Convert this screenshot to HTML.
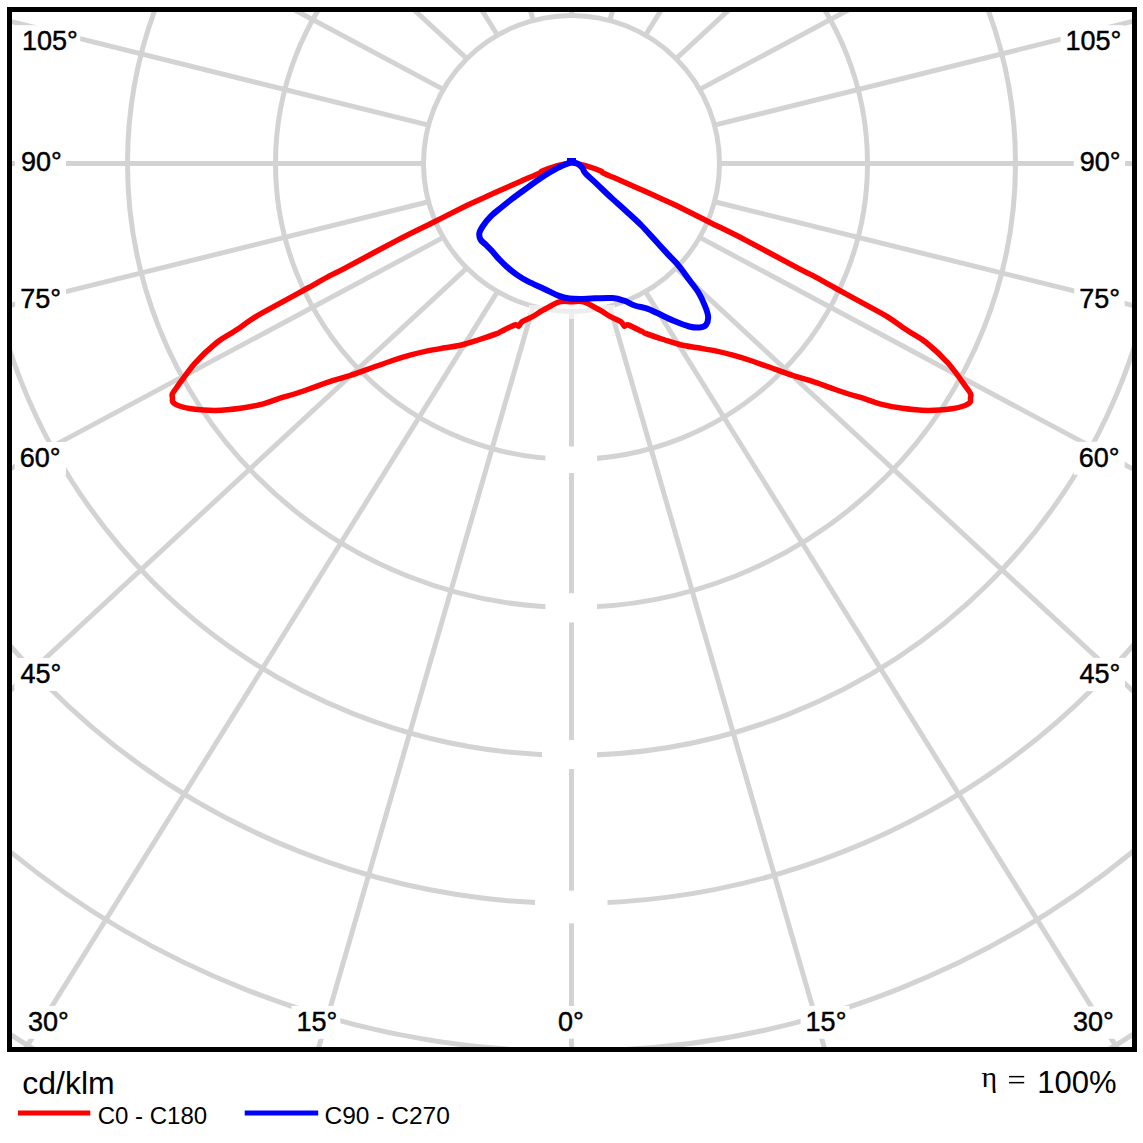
<!DOCTYPE html>
<html><head><meta charset="utf-8"><style>
html,body{margin:0;padding:0;background:#fff;width:1143px;height:1143px;overflow:hidden}
svg{display:block;font-family:"Liberation Sans",sans-serif}
</style></head><body>
<svg width="1143" height="1143" viewBox="0 0 1143 1143" font-family="Liberation Sans, sans-serif" fill="#000"><rect x="0" y="0" width="1143" height="1143" fill="#fff"/>
<defs><clipPath id="pc"><rect x="12" y="12" width="1120" height="1036"/></clipPath></defs>
<g clip-path="url(#pc)" fill="none" stroke="#d3d3d3" stroke-width="5">
<circle cx="571.5" cy="163.4" r="148"/>
<circle cx="571.5" cy="163.4" r="296"/>
<circle cx="571.5" cy="163.4" r="444"/>
<circle cx="571.5" cy="163.4" r="592"/>
<circle cx="571.5" cy="163.4" r="740"/>
<circle cx="571.5" cy="163.4" r="888"/>
<circle cx="571.5" cy="163.4" r="1036"/>
<circle cx="571.5" cy="163.4" r="1184"/>
<line x1="571.5" y1="15.4" x2="571.5" y2="-1984.6"/>
<line x1="609.8" y1="20.4" x2="1165.8" y2="-1900.7"/>
<line x1="645.5" y1="35.2" x2="1703.7" y2="-1661.9"/>
<line x1="676.2" y1="58.7" x2="2143.7" y2="-1300.1"/>
<line x1="699.7" y1="89.4" x2="2463.5" y2="-853.5"/>
<line x1="714.5" y1="125.1" x2="2655.6" y2="-356.5"/>
<line x1="719.5" y1="163.4" x2="2719.5" y2="163.4"/>
<line x1="714.5" y1="201.7" x2="2655.6" y2="683.3"/>
<line x1="699.7" y1="237.4" x2="2463.5" y2="1180.3"/>
<line x1="676.2" y1="268.1" x2="2143.7" y2="1626.9"/>
<line x1="645.5" y1="291.6" x2="1703.7" y2="1988.7"/>
<line x1="609.8" y1="306.4" x2="1165.8" y2="2227.5"/>
<line x1="571.5" y1="311.4" x2="571.5" y2="2311.4"/>
<line x1="533.2" y1="306.4" x2="-22.8" y2="2227.5"/>
<line x1="497.5" y1="291.6" x2="-560.7" y2="1988.7"/>
<line x1="466.8" y1="268.1" x2="-1000.7" y2="1626.9"/>
<line x1="443.3" y1="237.4" x2="-1320.5" y2="1180.3"/>
<line x1="428.5" y1="201.7" x2="-1512.6" y2="683.3"/>
<line x1="423.5" y1="163.4" x2="-1576.5" y2="163.4"/>
<line x1="428.5" y1="125.1" x2="-1512.6" y2="-356.5"/>
<line x1="443.3" y1="89.4" x2="-1320.5" y2="-853.5"/>
<line x1="466.8" y1="58.7" x2="-1000.7" y2="-1300.1"/>
<line x1="497.5" y1="35.2" x2="-560.7" y2="-1661.9"/>
<line x1="533.2" y1="20.4" x2="-22.8" y2="-1900.7"/>
<line x1="571.5" y1="15.4" x2="571.5" y2="-1984.6"/>
</g>
<rect x="545.4" y="446.5" width="51.6" height="26.5" fill="#fff"/>
<rect x="545.4" y="593.2" width="51.6" height="29.3" fill="#fff"/>
<rect x="542" y="740.1" width="55" height="28.9" fill="#fff"/>
<rect x="535" y="890.6" width="72.5" height="32.8" fill="#fff"/>
<rect x="529" y="305" width="86" height="14" fill="#fff" fill-opacity="0.6"/>
<rect x="16.9" y="25.2" width="63.3" height="32.4" fill="#fff"/>
<text x="21.9" y="50.2" font-size="27" stroke="#000" stroke-width="0.45">105°</text>
<rect x="14.9" y="145.8" width="51.1" height="33.2" fill="#fff"/>
<text x="20.9" y="170.8" font-size="27" stroke="#000" stroke-width="0.45">90°</text>
<rect x="15.2" y="282.9" width="50.8" height="33.2" fill="#fff"/>
<text x="20.2" y="307.9" font-size="27" stroke="#000" stroke-width="0.45">75°</text>
<rect x="14.8" y="442" width="51.2" height="32.9" fill="#fff"/>
<text x="19.8" y="467" font-size="27" stroke="#000" stroke-width="0.45">60°</text>
<rect x="14.4" y="658" width="51.6" height="32.9" fill="#fff"/>
<text x="20.4" y="683" font-size="27" stroke="#000" stroke-width="0.45">45°</text>
<rect x="1060.5" y="25.2" width="63.3" height="32.4" fill="#fff"/>
<text x="1065.5" y="50.2" font-size="27" stroke="#000" stroke-width="0.45">105°</text>
<rect x="1073.8" y="146" width="51.2" height="33" fill="#fff"/>
<text x="1079.8" y="171" font-size="27" stroke="#000" stroke-width="0.45">90°</text>
<rect x="1074.2" y="282.9" width="50.4" height="33.2" fill="#fff"/>
<text x="1079.2" y="307.9" font-size="27" stroke="#000" stroke-width="0.45">75°</text>
<rect x="1073.8" y="441.8" width="50.8" height="32.9" fill="#fff"/>
<text x="1078.8" y="466.8" font-size="27" stroke="#000" stroke-width="0.45">60°</text>
<rect x="1073.5" y="657.9" width="51.5" height="33.2" fill="#fff"/>
<text x="1079.5" y="682.9" font-size="27" stroke="#000" stroke-width="0.45">45°</text>
<rect x="21.9" y="1005.9" width="50.8" height="32.9" fill="#fff"/>
<text x="27.9" y="1030.9" font-size="27" stroke="#000" stroke-width="0.45">30°</text>
<rect x="291.5" y="1005.9" width="48.8" height="32.9" fill="#fff"/>
<text x="296.5" y="1030.9" font-size="27" stroke="#000" stroke-width="0.45">15°</text>
<rect x="544" y="1006" width="44.7" height="32.7" fill="#fff"/>
<text x="558" y="1031" font-size="27" stroke="#000" stroke-width="0.45">0°</text>
<rect x="800.6" y="1005.9" width="48.8" height="32.9" fill="#fff"/>
<text x="805.6" y="1030.9" font-size="27" stroke="#000" stroke-width="0.45">15°</text>
<rect x="1067" y="1006.4" width="50.7" height="32.3" fill="#fff"/>
<text x="1073" y="1031.4" font-size="27" stroke="#000" stroke-width="0.45">30°</text>
<rect x="9.5" y="9.5" width="1125" height="1040" fill="none" stroke="#000" stroke-width="5"/>
<path d="M571.5,162.8 C569.2,163.3 562.4,164.2 557.5,165.6 C552.6,167 545.2,169.8 542.2,171.1 C539.2,172.4 542.7,171.6 539.4,173.2 C536.1,174.8 528.2,177.9 522.5,180.4 C516.8,182.9 510.8,185.6 505,188.2 C499.2,190.8 494,193.2 487.5,196.1 C481,199 475.2,201.5 466.2,205.8 C457.2,210.2 444.9,216.5 433.5,222.2 C422.1,227.9 412.2,232.4 397.5,240.1 C382.8,247.8 356.2,262.2 345,268.1 C333.8,274 336.1,272.4 330,275.6 C323.9,278.8 315.2,283.9 308.7,287.5 C302.2,291.1 297,293.9 291.2,297.1 C285.4,300.3 279.5,303.5 273.7,306.7 C267.9,309.9 262.8,312.3 256.2,316.4 C249.6,320.5 240.6,327.1 234,331.5 C227.4,335.9 223.3,337.2 216.8,342.5 C210.3,347.8 201.5,355.8 194.8,363.3 C188.1,370.9 180.2,382.7 176.4,387.8 C172.7,392.9 173,392.3 172.3,394 C171.7,395.7 172.4,396.7 172.5,398 C172.6,399.3 171.9,400.8 172.8,402 C173.7,403.2 175,404.4 178,405.5 C181,406.6 184.8,407.9 191,408.7 C197.2,409.5 207.2,410.5 215.5,410.4 C223.8,410.3 232.5,409.4 240.5,408.3 C248.5,407.2 256.7,405.5 263.3,403.8 C269.9,402.1 274.3,400 280,398.2 C285.7,396.4 291.7,394.9 297.5,393 C303.3,391.1 309.2,388.9 315,386.9 C320.8,384.8 326.7,382.6 332.5,380.7 C338.3,378.8 344.2,377.4 350,375.5 C355.8,373.6 360.4,371.9 367.5,369.4 C374.6,366.9 385.4,362.9 392.5,360.5 C399.6,358.1 404.2,356.8 410,355.2 C415.8,353.6 421.7,352.1 427.5,350.9 C433.3,349.7 439.2,348.8 445,347.8 C450.8,346.8 457,346 462.5,344.7 C468,343.4 472.2,341.9 478,340 C483.8,338.1 493.7,334.8 497.5,333.4 C501.3,332 498.1,332.9 501,331.5 C503.9,330.1 511.8,325.9 514.7,325 C517.7,324.1 517.5,326.7 518.7,326.2 C519.9,325.7 519.7,323.4 522,321.8 C524.3,320.2 529,318.5 532.5,316.6 C536,314.7 538.5,312.7 543,310.2 C547.5,307.7 554.6,303.2 559.4,301.8 C564.1,300.4 567.5,301.8 571.5,301.8 C575.5,301.8 578.9,300.4 583.6,301.8 C588.4,303.2 595.5,307.7 600,310.2 C604.5,312.7 607,314.7 610.5,316.6 C614,318.5 618.7,320.2 621,321.8 C623.3,323.4 623.1,325.7 624.3,326.2 C625.5,326.7 625.3,324.1 628.3,325 C631.2,325.9 639.1,330.1 642,331.5 C644.9,332.9 641.7,332 645.5,333.4 C649.3,334.8 659.2,338.1 665,340 C670.8,341.9 675,343.4 680.5,344.7 C686,346 692.2,346.8 698,347.8 C703.8,348.8 709.7,349.7 715.5,350.9 C721.3,352.1 727.2,353.6 733,355.2 C738.8,356.8 743.4,358.1 750.5,360.5 C757.6,362.9 768.4,366.9 775.5,369.4 C782.6,371.9 787.2,373.6 793,375.5 C798.8,377.4 804.7,378.8 810.5,380.7 C816.3,382.6 822.2,384.8 828,386.9 C833.8,388.9 839.7,391.1 845.5,393 C851.3,394.9 857.3,396.4 863,398.2 C868.7,400 873.1,402.1 879.7,403.8 C886.3,405.5 894.5,407.2 902.5,408.3 C910.5,409.4 919.2,410.3 927.5,410.4 C935.8,410.5 945.8,409.5 952,408.7 C958.2,407.9 962,406.6 965,405.5 C968,404.4 969.3,403.2 970.2,402 C971.1,400.8 970.4,399.3 970.5,398 C970.6,396.7 971.4,395.7 970.7,394 C970.1,392.3 970.4,392.9 966.6,387.8 C962.9,382.7 954.9,370.9 948.2,363.3 C941.5,355.8 932.7,347.8 926.2,342.5 C919.7,337.2 915.6,335.9 909,331.5 C902.4,327.1 893.4,320.5 886.8,316.4 C880.2,312.3 875.1,309.9 869.3,306.7 C863.5,303.5 857.6,300.3 851.8,297.1 C846,293.9 840.8,291.1 834.3,287.5 C827.8,283.9 819,278.8 813,275.6 C807,272.4 809.2,274 798,268.1 C786.8,262.2 760.2,247.8 745.5,240.1 C730.8,232.4 721,227.9 709.5,222.2 C698,216.5 685.8,210.2 676.8,205.8 C667.8,201.5 662,199 655.5,196.1 C649,193.2 643.8,190.8 638,188.2 C632.2,185.6 626.2,182.9 620.5,180.4 C614.8,177.9 606.9,174.8 603.6,173.2 C600.3,171.6 603.8,172.4 600.8,171.1 C597.8,169.8 590.4,167 585.5,165.6 C580.6,164.2 573.8,163.3 571.5,162.8" fill="none" stroke="#ff0000" stroke-width="5.5" stroke-linejoin="round"/>
<path d="M571.5,162 C569.2,163 562.6,165.3 557.7,167.9 C552.8,170.5 547.7,173.5 542,177.3 C536.3,181.1 528.5,186.9 523.5,190.5 C518.5,194.1 515.7,196.1 512,198.9 C508.3,201.7 505,204.4 501.5,207.3 C498,210.2 494.1,213.1 491,216.2 C487.9,219.3 485,222.9 483.1,225.7 C481.2,228.5 479.8,230.7 479.4,233 C479,235.3 479.5,237.6 480.5,239.5 C481.5,241.4 483.6,242.5 485.5,244.4 C487.4,246.3 489.7,248.4 491.8,250.7 C493.9,253 495.7,255.5 498.1,258.1 C500.6,260.7 503.4,263.7 506.5,266.5 C509.6,269.3 513.5,272.4 517,274.9 C520.5,277.3 523.1,278.9 527.5,281.2 C531.9,283.5 538,286.1 543.2,288.5 C548.5,290.9 554.6,294.2 559,295.9 C563.4,297.6 566,298 569.5,298.5 C573,299 575.8,299 580,299 C584.2,299 589.6,298.4 595,298.3 C600.4,298.2 607.8,297.7 612.6,298.1 C617.5,298.5 620.4,299.5 624.1,300.7 C627.8,301.9 630.8,304.2 634.6,305.5 C638.5,306.8 643.4,307.3 647.2,308.6 C651.1,309.9 653.3,311.3 657.7,313.3 C662.1,315.3 668.2,318.5 673.5,320.7 C678.8,322.9 684.8,325.4 689.2,326.5 C693.6,327.6 696.9,327.8 699.7,327.5 C702.5,327.2 704.6,326.7 706,324.9 C707.4,323.1 708.3,319.6 708.1,316.5 C707.9,313.4 706.6,310 705,306 C703.4,302 701.2,296.9 698.5,292.5 C695.8,288.1 692.2,284 689,279.6 C685.8,275.2 682.7,270.5 679.2,266.3 C675.7,262.1 672.2,258.9 668,254.4 C663.8,249.8 658.5,243.9 654,239 C649.5,234.1 645.7,229.7 641,225 C636.3,220.3 630.8,215.4 626,211 C621.2,206.6 616.7,202.7 612,198.4 C607.3,194.1 602.4,189.3 598,185.1 C593.6,180.9 588,176 585.4,173.2 C582.8,170.4 583.8,169.8 582.6,168.3 C581.4,166.8 580.2,165.2 578.4,164.1 C576.5,163 572.6,162.3 571.5,162" fill="none" stroke="#0000ff" stroke-width="6" stroke-linejoin="round"/>
<rect x="567" y="158" width="9" height="4" fill="#0000ff"/>
<text x="22.3" y="1093.5" font-size="32">cd/klm</text>
<rect x="18" y="1110.5" width="72.3" height="5" fill="#ff0000"/>
<text x="97.7" y="1124" font-size="24">C0 - C180</text>
<rect x="244.7" y="1110.5" width="73.5" height="5" fill="#0000ff"/>
<text x="324.5" y="1124.3" font-size="24.5">C90 - C270</text>
<text x="981.5" y="1086.8" font-size="30" font-family="Liberation Serif, serif">η</text>
<rect x="1009" y="1075.9" width="15.2" height="1.5" fill="#000"/>
<rect x="1009" y="1081.9" width="15.2" height="1.5" fill="#000"/>
<text x="1037.2" y="1093.4" font-size="31">100%</text></svg>
</body></html>
